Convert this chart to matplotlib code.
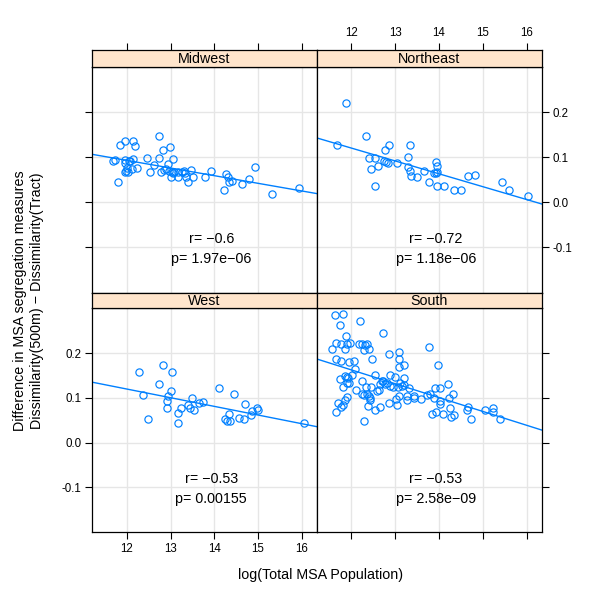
import numpy as np
import matplotlib
matplotlib.use("Agg")
import matplotlib.pyplot as plt

plt.rcParams['font.family'] = ['Liberation Sans', 'DejaVu Sans']

regions = ["Midwest", "Northeast", "West", "South"]

midwest_x = [11.68, 11.72, 11.80, 11.85, 11.95, 11.96, 11.95, 11.96, 11.98, 12.02, 12.01, 12.06, 12.08,
             12.12, 12.14, 12.15, 12.18, 12.23, 12.45, 12.52, 12.63, 12.73, 12.74, 12.78, 12.82, 12.85,
             12.89, 12.94, 12.98, 12.97, 13.02, 13.05, 13.06, 13.03, 13.08, 13.16, 13.18, 13.26, 13.31,
             13.33, 13.36, 13.39, 13.47, 13.52, 13.78, 13.92, 14.23, 14.27, 14.31, 14.33, 14.41, 14.64,
             14.79, 14.92, 15.32, 15.93]
midwest_y = [0.092, 0.094, 0.045, 0.128, 0.137, 0.094, 0.088, 0.066, 0.070, 0.066, 0.076, 0.092, 0.091,
             0.073, 0.096, 0.137, 0.124, 0.077, 0.098, 0.068, 0.082, 0.146, 0.098, 0.068, 0.116, 0.071,
             0.073, 0.085, 0.122, 0.070, 0.055, 0.097, 0.064, 0.066, 0.066, 0.057, 0.068, 0.068, 0.070,
             0.064, 0.055, 0.045, 0.071, 0.056, 0.057, 0.070, 0.027, 0.062, 0.056, 0.046, 0.047, 0.040,
             0.052, 0.079, 0.019, 0.031]

northeast_x = [11.88, 11.68, 12.34, 12.41, 12.53, 12.44, 12.60, 12.53, 12.76, 12.85, 12.75, 12.79, 12.83,
               13.05, 13.30, 13.33, 13.30, 13.34, 13.35, 13.49, 13.66, 13.76, 13.89, 13.92, 13.94, 13.95,
               13.95, 13.95, 14.11, 14.33, 14.50, 14.66, 14.82, 15.43, 15.60, 16.03]
northeast_y = [0.220, 0.128, 0.146, 0.099, 0.099, 0.073, 0.081, 0.036, 0.116, 0.126, 0.092, 0.090, 0.086,
               0.088, 0.101, 0.126, 0.078, 0.069, 0.059, 0.057, 0.069, 0.046, 0.064, 0.090, 0.064, 0.080,
               0.067, 0.037, 0.035, 0.028, 0.028, 0.058, 0.060, 0.046, 0.028, 0.013]

west_x = [12.27, 12.36, 12.48, 12.73, 12.82, 13.03, 13.01, 12.95, 12.91, 12.91, 13.16, 13.16, 13.23,
          13.40, 13.48, 13.45, 13.53, 13.64, 13.74, 14.10, 14.24, 14.33, 14.29, 14.36, 14.46, 14.56,
          14.69, 14.68, 14.84, 14.86, 14.98, 14.99, 16.05]
west_y = [0.158, 0.107, 0.053, 0.131, 0.173, 0.158, 0.116, 0.104, 0.093, 0.077, 0.067, 0.044, 0.077,
          0.084, 0.100, 0.077, 0.074, 0.088, 0.090, 0.122, 0.054, 0.065, 0.049, 0.049, 0.109, 0.056,
          0.086, 0.052, 0.061, 0.071, 0.077, 0.074, 0.045]

south_x = [11.62, 11.81, 11.75, 12.19, 11.57, 11.64, 11.77, 11.87, 11.85, 11.89, 11.98, 11.64, 11.76,
           11.94, 12.05, 12.08, 12.01, 11.75, 11.85, 11.89, 11.92, 11.80, 11.90, 11.94, 12.17, 12.25,
           12.32, 12.36, 12.29, 12.40, 12.47, 12.73, 12.86, 13.08, 13.08, 13.08, 13.21, 13.77, 13.98,
           12.11, 12.24, 12.24, 12.33, 12.29, 12.36, 12.40, 12.44, 12.42, 12.43, 12.38, 12.29, 12.53,
           12.55, 12.59, 12.64, 12.66, 12.70, 12.72, 12.76, 12.66, 12.82, 12.87, 12.87, 12.95, 13.00,
           13.01, 13.05, 12.86, 13.06, 13.11, 13.15, 13.20, 13.21, 13.31, 13.27, 13.27, 13.08, 13.42,
           13.42, 13.59, 13.73, 13.80, 13.83, 13.88, 13.91, 13.94, 14.01, 14.02, 14.03, 14.09, 14.21,
           14.23, 14.26, 14.27, 14.31, 14.33, 14.63, 14.67, 14.73, 15.05, 15.22, 15.22, 15.39, 11.66,
           11.70, 11.77, 11.81, 11.90, 11.86]
south_y = [0.287, 0.288, 0.264, 0.272, 0.209, 0.224, 0.221, 0.238, 0.209, 0.221, 0.224, 0.188, 0.183,
           0.181, 0.182, 0.164, 0.152, 0.142, 0.149, 0.146, 0.144, 0.124, 0.133, 0.133, 0.221, 0.221,
           0.219, 0.221, 0.208, 0.209, 0.187, 0.245, 0.198, 0.203, 0.188, 0.170, 0.173, 0.215, 0.173,
           0.119, 0.137, 0.110, 0.125, 0.107, 0.109, 0.104, 0.124, 0.095, 0.099, 0.082, 0.048, 0.073,
           0.152, 0.116, 0.119, 0.131, 0.137, 0.139, 0.131, 0.079, 0.133, 0.152, 0.127, 0.124, 0.146,
           0.097, 0.084, 0.088, 0.125, 0.134, 0.127, 0.144, 0.128, 0.122, 0.104, 0.095, 0.104, 0.101,
           0.104, 0.097, 0.106, 0.108, 0.063, 0.101, 0.122, 0.068, 0.093, 0.086, 0.122, 0.065, 0.132,
           0.101, 0.078, 0.057, 0.109, 0.062, 0.072, 0.080, 0.053, 0.073, 0.077, 0.068, 0.052, 0.068,
           0.088, 0.080, 0.084, 0.103, 0.095]

r_values = ["\u22120.6", "\u22120.72", "\u22120.53", "\u22120.53"]
p_values = ["1.97e\u221206", "1.18e\u221206", "0.00155", "2.58e\u221209"]

x_ticks = [12, 13, 14, 15, 16]
y_ticks = [-0.1, 0.0, 0.1, 0.2]

data = {
    "Midwest": (midwest_x, midwest_y),
    "Northeast": (northeast_x, northeast_y),
    "West": (west_x, west_y),
    "South": (south_x, south_y),
}

BLUE = "#0080ff"
STRIP = "#ffe5cc"
GRID = "#e6e6e6"
XLIM = (11.21, 16.34)
YLIM = (-0.201, 0.301)

W = H = 600.0
fig = plt.figure(figsize=(6, 6), dpi=100)


def rect(x0, y0, x1, y1):
    return [x0 / W, 1 - y1 / H, (x1 - x0) / W, (y1 - y0) / H]


cols = [(92.3, 316.7), (316.7, 541.7)]
rows = [((50.0, 66.7), (66.7, 292.7)), ((292.7, 308.3), (308.3, 532.3))]

layout = {"Midwest": (0, 0), "Northeast": (0, 1), "West": (1, 0), "South": (1, 1)}

for i, name in enumerate(regions):
    r, c = layout[name]
    (sy0, sy1), (py0, py1) = rows[r]
    x0, x1 = cols[c]
    ax = fig.add_axes(rect(x0, py0, x1, py1))
    sax = fig.add_axes(rect(x0, sy0, x1, sy1))

    xs, ys = data[name]
    xs = np.array(xs)
    ys = np.array(ys)

    ax.set_xlim(*XLIM)
    ax.set_ylim(*YLIM)
    for t in x_ticks:
        ax.axvline(t, color=GRID, lw=1, zorder=0)
    for t in y_ticks:
        ax.axhline(t, color=GRID, lw=1, zorder=0)

    slope, intercept = np.polyfit(xs, ys, 1)
    lx = np.array(XLIM)
    ax.plot(lx, intercept + slope * lx, color=BLUE, lw=1, zorder=2)
    ax.plot(xs, ys, linestyle="none", marker="o", markersize=5.2,
            markerfacecolor="none", markeredgecolor=BLUE, markeredgewidth=0.85, zorder=3)

    ax.text(13.93, -0.081, "r= " + r_values[i], ha="center", va="center", fontsize=10.3)
    ax.text(13.93, -0.126, "p= " + p_values[i], ha="center", va="center", fontsize=10.3)

    ax.set_xticks(x_ticks)
    ax.set_yticks(y_ticks)
    ax.tick_params(direction="out", length=5, width=0.8, labelsize=8.3, color="black", pad=3)
    for s in ax.spines.values():
        s.set_linewidth(0.9)

    # y ticks
    if c == 0:
        ax.tick_params(axis="y", left=True, right=False, labelleft=(r == 1), labelright=False)
    else:
        ax.tick_params(axis="y", left=False, right=True, labelleft=False, labelright=(r == 0))
    ax.yaxis.set_major_formatter(matplotlib.ticker.FormatStrFormatter("%.1f"))

    # x ticks
    if r == 1:
        ax.tick_params(axis="x", bottom=True, top=False, labelbottom=(c == 0), labeltop=False)
    else:
        ax.tick_params(axis="x", bottom=False, top=False, labelbottom=False, labeltop=False)

    # strip
    sax.set_facecolor(STRIP)
    sax.set_xlim(*XLIM)
    sax.set_ylim(0, 1)
    sax.set_yticks([])
    sax.text(0.5, 0.45, name, transform=sax.transAxes, ha="center", va="center", fontsize=10.3)
    for s in sax.spines.values():
        s.set_linewidth(0.9)
    if r == 0:
        sax.set_xticks(x_ticks)
        sax.tick_params(axis="x", direction="out", length=5, width=0.8, labelsize=8.3,
                        bottom=False, top=True, labelbottom=False, labeltop=(c == 1), pad=3)
    else:
        sax.set_xticks([])

fig.text(321 / W, 1 - 575 / H, "log(Total MSA Population)", ha="center", va="center", fontsize=10.3)
fig.text(20 / W, 1 - 301 / H, "Difference in MSA segregation measures", rotation=90,
         ha="center", va="center", fontsize=10.3)
fig.text(37 / W, 1 - 301 / H, "Dissimilarity(500m) \u2212 Dissimilarity(Tract)", rotation=90,
         ha="center", va="center", fontsize=10.3)

fig.savefig("out.png", dpi=100)
